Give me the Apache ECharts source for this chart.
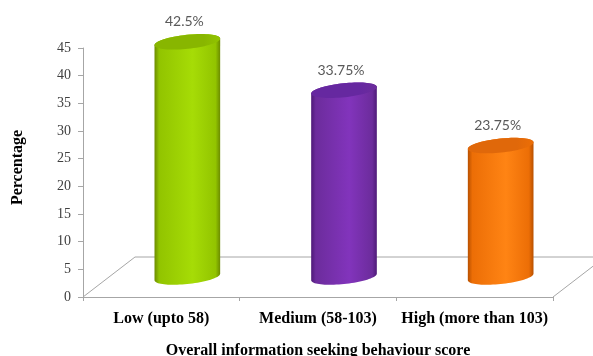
<!DOCTYPE html>
<html>
<head>
<meta charset="utf-8">
<script src="https://cdn.jsdelivr.net/npm/echarts@6/dist/echarts.min.js"></script>
<style>
  html, body { margin: 0; padding: 0; background: #ffffff; }
  #chart { width: 593px; height: 356px; }
</style>
</head>
<body>
<div id="chart"></div>
<script>
// Score groups and the share of respondents in each
const categories = ['Low (upto 58)', 'Medium (58-103)', 'High (more than 103)'];
const percentages = [42.5, 33.75, 23.75];

// Value axis range
const yMin = 0;
const yMax = 45;
const yStep = 5;

// Cylinder shading: [edge, body, highlight, top]
const cylinderColors = [
  ['#6c8c00', '#92c400', '#a6dc06', '#88b600'],
  ['#4e1a78', '#6c2c9c', '#8234bc', '#6628a0'],
  ['#b85000', '#ec6e06', '#ff8414', '#e0680a']
];

// Perspective of the floor (pixels)
const DEPTH_X = 52;
const DEPTH_Y = -40;
const CYL_A = 33;          // half width of a cylinder
const CYL_B = 7;           // half height of its elliptical caps
const CYL_TILT = -6 * Math.PI / 180;

const LINE = '#a6a6a6';
const SERIF = '"Liberation Serif", "Times New Roman", serif';

function ellipsePoints(cx, cy, t0, t1, n) {
  const pts = [];
  const c = Math.cos(CYL_TILT), s = Math.sin(CYL_TILT);
  for (let i = 0; i <= n; i++) {
    const t = t0 + (t1 - t0) * i / n;
    const ex = CYL_A * Math.cos(t), ey = CYL_B * Math.sin(t);
    pts.push([cx + ex * c - ey * s, cy + ex * s + ey * c]);
  }
  return pts;
}

function hGradient(stops) {
  return new echarts.graphic.LinearGradient(0, 0, 1, 0,
    stops.map(function (st) { return { offset: st[0], color: st[1] }; }));
}

// Floor of the plot: front edge is the category axis, the rest recedes back
function renderFloor(params, api) {
  const cs = params.coordSys;
  const x0 = cs.x, x1 = cs.x + cs.width, yb = cs.y + cs.height;
  return {
    type: 'group',
    silent: true,
    children: [
      { type: 'line', shape: { x1: x0, y1: yb, x2: x0 + DEPTH_X, y2: yb + DEPTH_Y },
        style: { stroke: LINE, lineWidth: 1 } },
      { type: 'line', shape: { x1: x0 + DEPTH_X, y1: yb + DEPTH_Y, x2: x1 + DEPTH_X, y2: yb + DEPTH_Y },
        style: { stroke: LINE, lineWidth: 1 } },
      { type: 'line', shape: { x1: x1, y1: yb, x2: x1 + DEPTH_X, y2: yb + DEPTH_Y },
        style: { stroke: LINE, lineWidth: 1 } }
    ]
  };
}

function renderCylinder(params, api) {
  const idx = api.value(0);
  const val = api.value(1);
  const base = api.coord([idx, yMin]);
  const top = api.coord([idx, val]);
  const cx = base[0] + DEPTH_X / 2;
  const by = base[1] + DEPTH_Y / 2;
  const ty = top[1] + DEPTH_Y / 2;
  const col = cylinderColors[params.dataIndex % cylinderColors.length];

  // angle where the tilted ellipse reaches its left/right extremes
  const t0 = Math.atan(-(CYL_B / CYL_A) * Math.tan(CYL_TILT));
  const lower = ellipsePoints(cx, by, t0, t0 + Math.PI, 40);
  const upper = ellipsePoints(cx, ty, t0 + Math.PI, t0 + 2 * Math.PI, 40);
  const body = lower.concat(upper);
  const cap = ellipsePoints(cx, ty, 0, 2 * Math.PI, 72);

  return {
    type: 'group',
    children: [
      { type: 'polygon', shape: { points: body },
        style: { fill: hGradient([[0, col[0]], [0.07, col[1]], [0.58, col[2]], [0.93, col[1]], [1, col[0]]]) } },
      { type: 'polygon', shape: { points: cap },
        style: { fill: hGradient([[0, col[3]], [0.75, col[3]], [1, col[1]]]) } },
      { type: 'text', x: cx - 3, y: ty - 20,
        style: { text: val + '%', fill: '#595959', font: '14px Lato, "Open Sans", sans-serif',
                 align: 'center', verticalAlign: 'middle' } }
    ]
  };
}

const chart = echarts.init(document.getElementById('chart'));
chart.setOption({
  backgroundColor: '#ffffff',
  animation: false,
  grid: { left: 83, right: 40, top: 48, bottom: 59, outerBoundsMode: 'none', containLabel: false },
  xAxis: {
    type: 'category',
    data: categories,
    name: 'Overall information seeking behaviour score',
    nameLocation: 'middle',
    nameGap: 46,
    nameTextStyle: { fontFamily: SERIF, fontWeight: 'bold', fontSize: 16, color: '#000' },
    axisLine: { lineStyle: { color: LINE, width: 1 } },
    axisTick: { show: true, length: 4, lineStyle: { color: LINE } },
    axisLabel: { interval: 0, hideOverlap: false, margin: 14, fontFamily: SERIF, fontWeight: 'bold', fontSize: 16, color: '#000' },
    splitLine: { show: false }
  },
  yAxis: {
    type: 'value',
    min: yMin,
    max: yMax,
    interval: yStep,
    name: 'Percentage',
    nameLocation: 'middle',
    nameGap: 57,
    nameTextStyle: { fontFamily: SERIF, fontWeight: 'bold', fontSize: 16, color: '#000', padding: [0, 0, 0, 10] },
    axisLine: { show: true, lineStyle: { color: LINE, width: 1 } },
    axisTick: { show: true, length: 5, lineStyle: { color: LINE } },
    axisLabel: { margin: 12, fontFamily: SERIF, fontSize: 14, color: '#404040' },
    splitLine: { show: false }
  },
  series: [
    {
      type: 'custom',
      name: 'floor',
      z: 1,
      silent: true,
      renderItem: renderFloor,
      data: [[0, 0]]
    },
    {
      type: 'custom',
      name: 'Percentage',
      z: 3,
      renderItem: renderCylinder,
      encode: { x: 0, y: 1 },
      data: percentages.map(function (v, i) { return [i, v]; })
    }
  ]
});
</script>
</body>
</html>
